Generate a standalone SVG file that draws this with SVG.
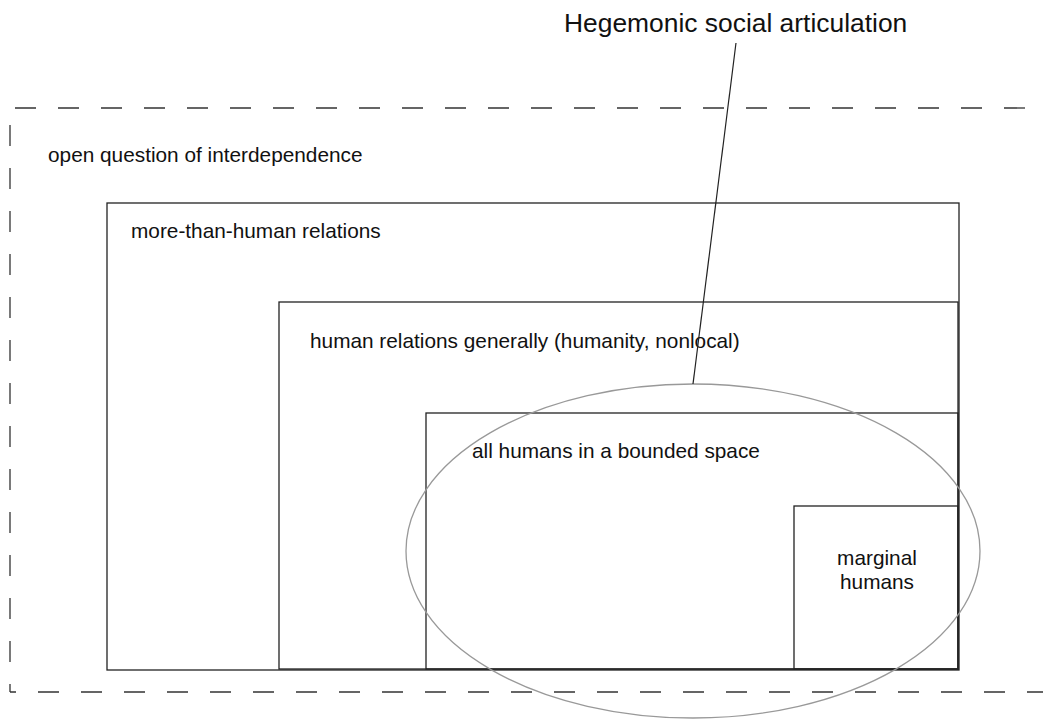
<svg xmlns="http://www.w3.org/2000/svg" width="1043" height="720" viewBox="0 0 1043 720">
  <style>
    text { font-family: "Liberation Sans", Arial, sans-serif; fill: #111; }
    .lbl { font-size: 20.8px; }
    .title { font-size: 26.4px; }
    .box { fill: none; stroke: #222; stroke-width: 1.3; }
    .frame { fill: none; stroke: #333; stroke-width: 1.3; stroke-dasharray: 21 22; }
  </style>
  <rect width="1043" height="720" fill="#fff"/>

  <g id="interdependence">
    <line class="frame" x1="15" y1="108" x2="1043" y2="108"/>
    <line class="frame" x1="10" y1="125" x2="10" y2="692" style="stroke-dasharray: 21 22"/>
    <line class="frame" x1="10" y1="692" x2="1043" y2="692" style="stroke-dashoffset: 15"/>
    <text class="lbl" x="48" y="162">open question of interdependence</text>
  </g>

  <g id="more-than-human">
    <rect class="box" x="107" y="203" width="852" height="467"/>
    <text class="lbl" x="131" y="238">more-than-human relations</text>
  </g>

  <g id="human-relations">
    <rect class="box" x="279" y="302" width="679" height="367"/>
    <text class="lbl" x="310" y="348">human relations generally (humanity, nonlocal)</text>
  </g>

  <g id="bounded-space">
    <rect class="box" x="426" y="413" width="532" height="256"/>
    <text class="lbl" x="472" y="458">all humans in a bounded space</text>
  </g>

  <g id="marginal">
    <rect class="box" x="794" y="506" width="164" height="163"/>
    <text class="lbl" x="877" y="565" text-anchor="middle">marginal</text>
    <text class="lbl" x="877" y="589" text-anchor="middle">humans</text>
  </g>

  <g id="hegemonic">
    <ellipse cx="693" cy="551" rx="287" ry="167" fill="none" stroke="#999" stroke-width="1.3"/>
    <text class="title" x="564" y="32">Hegemonic social articulation</text>
  </g>

  <g id="connectors">
    <line x1="736" y1="43" x2="693" y2="384" stroke="#222" stroke-width="1.2"/>
  </g>
</svg>
